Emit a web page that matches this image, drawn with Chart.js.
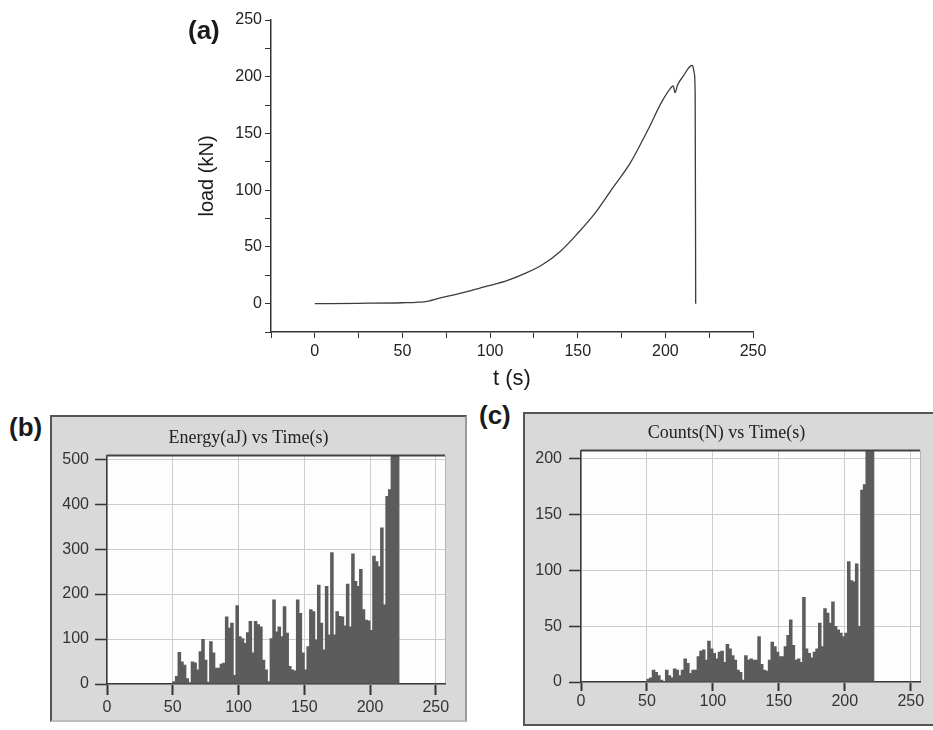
<!DOCTYPE html>
<html>
<head>
<meta charset="utf-8">
<script src="https://cdn.jsdelivr.net/npm/chart.js@4.4.1/dist/chart.umd.min.js"></script>
<style>
  body { margin: 0; background: #fff; }
  #page { position: relative; width: 933px; height: 730px; overflow: hidden; font-family: "Liberation Sans", Arial, sans-serif; }
  .tag { position: absolute; font-weight: bold; font-size: 26px; line-height: 26px; color: #1a1a1a; }
  .panel { position: absolute; box-sizing: border-box; background: #d9d9d9; border: 2px solid #555; }
  canvas { position: absolute; }
</style>
</head>
<body>
<div id="page">
  <canvas id="chartA" width="600" height="400" style="left:180px;top:0px"></canvas>
  <div class="tag" style="left:188px;top:17px">(a)</div>

  <div class="panel" style="left:50px;top:415px;width:417px;height:307px;border-right-color:#9a9a9a;border-bottom-color:#bdbdbd">
    <canvas id="chartB" width="413" height="303" style="left:0;top:0"></canvas>
  </div>
  <div class="tag" style="left:9px;top:414px">(b)</div>

  <div class="panel" style="left:523px;top:412px;width:412px;height:314px">
    <canvas id="chartC" width="408" height="310" style="left:0;top:0"></canvas>
  </div>
  <div class="tag" style="left:479px;top:402px">(c)</div>
</div>

<script>
// (a) load vs time
const loadTime = [0, 25, 50, 58, 65, 70, 80, 90, 100, 110, 120, 130, 140, 150, 160, 170, 180, 190, 198, 203, 204.5, 205.5, 207, 210, 214, 215.5, 216.5, 217, 217.3];
const loadKN   = [0, 0.3, 0.8, 1.2, 2.3, 4.4, 8, 12, 16, 20.5, 26.6, 34.5, 46, 62, 80, 102, 124, 153, 178, 190, 192, 186, 193, 200, 209, 210, 203, 185, 0];
const tTicks    = [-25, 0, 25, 50, 75, 100, 125, 150, 175, 200, 225, 250];
const loadTicks = [-25, 0, 25, 50, 75, 100, 125, 150, 175, 200, 225, 250];

// (b), (c) histograms: 2 s bins, centre times
const binMid = [51, 53, 55, 57, 59, 61, 63, 65, 67, 69,
  71, 73, 75, 77, 79, 81, 83, 85, 87, 89,
  91, 93, 95, 97, 99, 101, 103, 105, 107, 109,
  111, 113, 115, 117, 119, 121, 123, 125, 127, 129,
  131, 133, 135, 137, 139, 141, 143, 145, 147, 149,
  151, 153, 155, 157, 159, 161, 163, 165, 167, 169,
  171, 173, 175, 177, 179, 181, 183, 185, 187, 189,
  191, 193, 195, 197, 199, 201, 203, 205, 207, 209,
  211, 213, 215, 217, 219, 221];
const energy = [6, 18, 71, 50, 43, 13, 4, 50, 48, 32,
  73, 100, 54, 5, 95, 70, 36, 36, 45, 47,
  150, 125, 136, 20, 175, 106, 102, 91, 115, 140,
  70, 140, 133, 128, 54, 32, 6, 102, 188, 117,
  128, 106, 173, 114, 40, 32, 30, 188, 158, 70,
  32, 84, 166, 162, 99, 221, 136, 77, 218, 110,
  293, 110, 162, 151, 150, 130, 223, 128, 290, 229,
  218, 256, 166, 143, 141, 120, 285, 273, 262, 348,
  177, 418, 433, 560, 560, 560];
const counts = [3, 4, 11, 9, 6, 2, 1, 11, 6, 4,
  12, 11, 6, 11, 21, 17, 8, 11, 11, 23,
  28, 29, 20, 37, 30, 26, 21, 27, 28, 18,
  34, 30, 24, 20, 11, 9, 2, 24, 20, 21,
  20, 20, 41, 16, 11, 10, 20, 36, 32, 27,
  23, 23, 32, 42, 56, 33, 20, 21, 18, 76,
  30, 26, 22, 27, 30, 53, 32, 66, 62, 53,
  72, 50, 47, 44, 41, 44, 108, 91, 90, 106,
  50, 172, 177, 240, 240, 240];
const histTimeTicks = [0, 50, 100, 150, 200, 250];
const energyTicks = [0, 100, 200, 300, 400, 500];
const countTicks = [0, 50, 100, 150, 200];

const sans = "'Liberation Sans', Arial, sans-serif";
const serif = "'Liberation Serif', 'Times New Roman', serif";

// white plot area + dark top edge for the histogram panels
const plotFrame = {
  id: 'plotFrame',
  beforeDraw(chart) {
    const a = chart.chartArea, ctx = chart.ctx;
    ctx.save();
    ctx.fillStyle = '#fdfdfd';
    ctx.fillRect(a.left, a.top, a.right - a.left, a.bottom - a.top);
    ctx.strokeStyle = '#b5b5b5';
    ctx.lineWidth = 1;
    ctx.beginPath();
    ctx.moveTo(a.right + 0.5, a.top);
    ctx.lineTo(a.right + 0.5, a.bottom);
    ctx.stroke();
    ctx.restore();
  },
  afterDraw(chart) {
    const a = chart.chartArea, ctx = chart.ctx;
    ctx.save();
    ctx.strokeStyle = '#444';
    ctx.lineWidth = 2;
    ctx.beginPath();
    ctx.moveTo(a.left, a.top);
    ctx.lineTo(a.right, a.top);
    ctx.stroke();
    ctx.restore();
  }
};

new Chart(document.getElementById('chartA'), {
  type: 'scatter',
  data: {
    datasets: [{
      data: loadTime.map((t, i) => ({x: t, y: loadKN[i]})),
      showLine: true,
      borderColor: '#3c3c3c',
      borderWidth: 1.3,
      pointRadius: 0,
      cubicInterpolationMode: 'monotone'
    }]
  },
  options: {
    responsive: false,
    animation: false,
    layout: {padding: {top: 20, right: 27, left: 0, bottom: 0}},
    plugins: {legend: {display: false}, tooltip: {enabled: false}},
    scales: {
      x: {
        min: -25, max: 250,
        afterBuildTicks: s => { s.ticks = tTicks.map(v => ({value: v})); },
        afterFit: s => { s.height = 68; },
        border: {color: '#333', width: 1.5},
        grid: {drawOnChartArea: false, tickLength: 6, color: '#333', tickColor: '#333'},
        ticks: {
          autoSkip: false, maxRotation: 0, padding: 4, color: '#222',
          font: {family: sans, size: 16},
          callback: v => (v >= 0 && v % 50 === 0) ? v : ''
        },
        title: {display: true, text: 't (s)', color: '#1a1a1a', font: {family: sans, size: 22}, padding: {top: 0, bottom: 8}}
      },
      y: {
        min: -25, max: 250,
        afterBuildTicks: s => { s.ticks = loadTicks.map(v => ({value: v})); },
        afterFit: s => { s.width = 91; },
        border: {color: '#333', width: 1.5},
        grid: {drawOnChartArea: false, tickLength: 6, color: '#333', tickColor: '#333'},
        ticks: {
          autoSkip: false, padding: 3, color: '#222',
          font: {family: sans, size: 16},
          callback: v => (v >= 0 && v % 50 === 0) ? v : ''
        },
        title: {display: true, text: 'load (kN)', color: '#1a1a1a', font: {family: sans, size: 20}, padding: {top: 15, bottom: 0}}
      }
    }
  }
});

function histogram(id, values, yMax, yTicks, title, cfg) {
  return new Chart(document.getElementById(id), {
    type: 'bar',
    data: {
      datasets: [{
        data: binMid.map((t, i) => ({x: t, y: values[i]})),
        backgroundColor: '#5c5c5c',
        borderWidth: 0,
        categoryPercentage: 1,
        barPercentage: 1.35
      }]
    },
    plugins: [plotFrame],
    options: {
      responsive: false,
      animation: false,
      layout: {padding: {top: 0, right: cfg.padRight, left: cfg.padLeft, bottom: 0}},
      plugins: {
        legend: {display: false},
        tooltip: {enabled: false},
        title: {
          display: true, text: title, color: '#222',
          font: {family: serif, size: 18, weight: 'normal'},
          padding: {top: cfg.titleTop, bottom: cfg.titleBottom}
        }
      },
      scales: {
        x: {
          type: 'linear', min: 0, max: 257, offset: false,
          afterBuildTicks: s => { s.ticks = histTimeTicks.map(v => ({value: v})); },
          afterFit: s => { s.height = cfg.xHeight; },
          border: {color: '#3a3a3a', width: 1.5},
          grid: {offset: false, color: '#cdcdcd', tickColor: '#333', tickLength: cfg.xTick, tickWidth: 2},
          ticks: {autoSkip: false, maxRotation: 0, padding: cfg.xPad, color: '#333', font: {family: sans, size: 16}}
        },
        y: {
          min: 0, max: yMax,
          afterBuildTicks: s => { s.ticks = yTicks.map(v => ({value: v})); },
          afterFit: s => { s.width = cfg.yWidth; },
          border: {color: '#3a3a3a', width: 1.5},
          grid: {color: '#cdcdcd', tickColor: '#333', tickLength: 12, tickWidth: 1.5},
          ticks: {autoSkip: false, padding: cfg.yPad, color: '#333', font: {family: sans, size: 16}}
        }
      }
    }
  });
}

histogram('chartB', energy, 508, energyTicks, 'Energy(aJ) vs Time(s)',
  {padLeft: 0, padRight: 20, titleTop: 10, titleBottom: 7, xHeight: 36, xTick: 11, xPad: 3, yWidth: 55, yPad: 6});
histogram('chartC', counts, 207, countTicks, 'Counts(N) vs Time(s)',
  {padLeft: 8, padRight: 13, titleTop: 8, titleBottom: 7, xHeight: 42, xTick: 9, xPad: 1, yWidth: 48, yPad: 7});
</script>
</body>
</html>
